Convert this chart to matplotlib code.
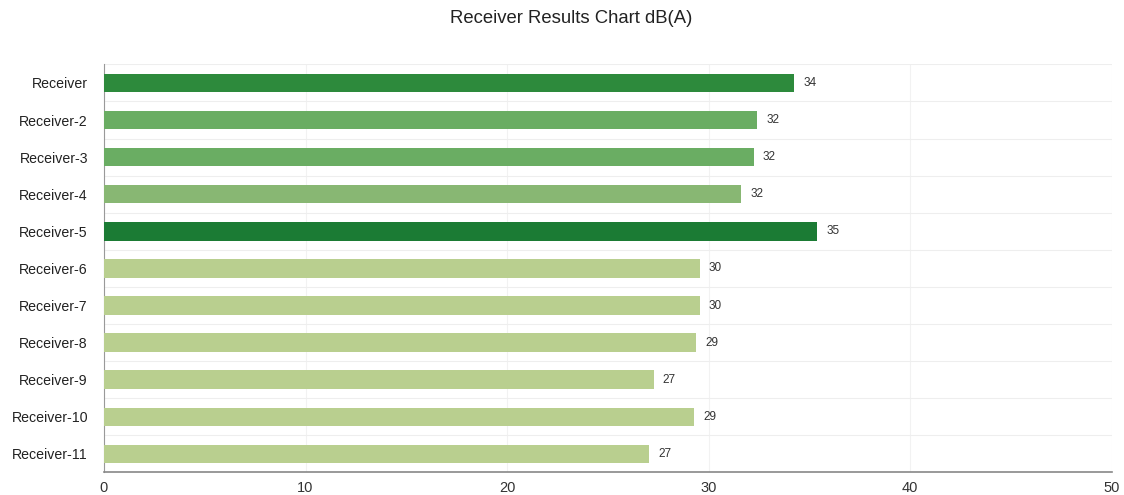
import numpy as np
import matplotlib.pyplot as plt

plt.rcParams['font.family'] = ['Liberation Sans', 'DejaVu Sans']

receivers = ['Receiver', 'Receiver-2', 'Receiver-3', 'Receiver-4', 'Receiver-5',
             'Receiver-6', 'Receiver-7', 'Receiver-8', 'Receiver-9', 'Receiver-10',
             'Receiver-11']
levels = [34.26, 32.42, 32.24, 31.63, 35.4, 29.55, 29.55, 29.38, 27.28, 29.3, 27.06]
colors = ['#2d8a3c', '#6aad63', '#6aad63', '#88b773', '#1b7b34',
          '#b9cf8f', '#b9cf8f', '#b9cf8f', '#b9cf8f', '#b9cf8f', '#b9cf8f']

fig = plt.figure(figsize=(11.24, 4.95), dpi=100)
ax = fig.add_axes([0.0925, 0.0455, 0.8965, 0.8245])

y = np.arange(len(receivers))
ax.barh(y, levels, height=0.5, color=colors, zorder=3)
for yi, v in zip(y, levels):
    ax.text(v + 0.45, yi, '%.0f' % v, va='center', ha='left', fontsize=8.5, color='#333333')

ax.set_ylim(len(receivers) - 0.5, -0.5)
ax.set_xlim(0, 50)
ax.set_yticks(y)
ax.set_yticklabels(receivers, fontsize=10.2, color='#222222')
ax.set_xticks([0, 10, 20, 30, 40, 50])
ax.tick_params(axis='x', length=0, labelsize=10.5, pad=6, colors='#333333')
ax.tick_params(axis='y', length=0, pad=11.5)

# row separators and faint vertical grid
ax.set_yticks(np.arange(len(receivers) + 1) - 0.5, minor=True)
ax.tick_params(axis='y', which='minor', length=0)
ax.grid(axis='y', which='minor', color='#eeeeee', linewidth=0.8, zorder=0)
ax.grid(axis='x', which='major', color='#f2f2f2', linewidth=0.8, zorder=0)

for s in ['top', 'right']:
    ax.spines[s].set_visible(False)
ax.spines['left'].set_color('#999999')
ax.spines['bottom'].set_color('#888888')
ax.spines['bottom'].set_linewidth(1.2)

fig.suptitle('Receiver Results Chart dB(A)', x=0.508, y=0.962, va='center',
             fontsize=13.3, color='#222222')

plt.savefig('out.png', dpi=100)
